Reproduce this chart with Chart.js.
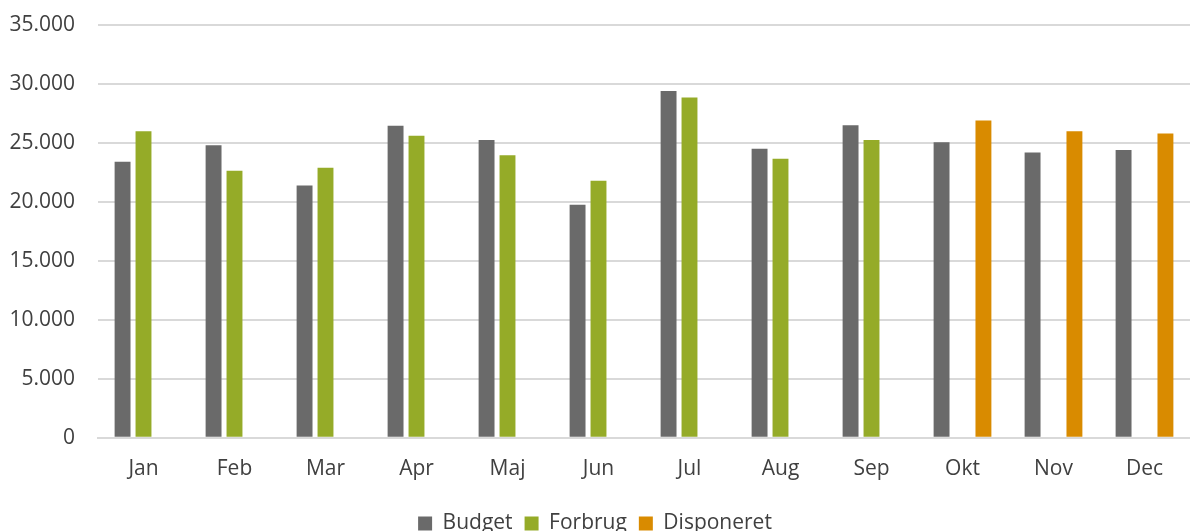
<!DOCTYPE html>
<html>
<head>
<meta charset="utf-8">
<script src="https://cdn.jsdelivr.net/npm/chart.js@4/dist/chart.umd.min.js"></script>
<style>
  html, body { margin: 0; padding: 0; background: #fff; }
  #wrap { width: 1190px; height: 531px; }
</style>
</head>
<body>
<div id="wrap"><canvas id="budgetChart"></canvas></div>
<script>
// Data
const months = ['Jan', 'Feb', 'Mar', 'Apr', 'Maj', 'Jun', 'Jul', 'Aug', 'Sep', 'Okt', 'Nov', 'Dec'];
const budget = [23400, 24800, 21400, 26450, 25250, 19750, 29400, 24500, 26500, 25050, 24200, 24400];
const forbrug = [26000, 22650, 22900, 25600, 23950, 21800, 28850, 23650, 25250, null, null, null];
const disponeret = [null, null, null, null, null, null, null, null, null, 26900, 26000, 25800];
const yTicks = [0, 5000, 10000, 15000, 20000, 25000, 30000, 35000];

const textColor = '#404040';
const gridColor = '#d9d9d9';

function fmt(v) {
    // dansk tusindtalsseparator
    return String(v).replace(/\B(?=(\d{3})+(?!\d))/g, '.');
}

const ctx = document.getElementById('budgetChart').getContext('2d');
const chart = new Chart(ctx, {
    type: 'bar',
    data: {
        labels: months,
        datasets: [
            { label: 'Budget', data: budget, backgroundColor: '#6a6a6a' },
            { label: 'Forbrug', data: forbrug, backgroundColor: '#95ab28' },
            { label: 'Disponeret', data: disponeret, backgroundColor: '#d98b00' }
        ]
    },
    options: {
        responsive: true,
        maintainAspectRatio: false,
        animation: false,
        categoryPercentage: 0.69,
        barPercentage: 0.76,
        layout: { padding: { top: 25, right: 0, bottom: -13, left: 0 } },
        plugins: {
            tooltip: { enabled: false },
            legend: {
                position: 'bottom',
                labels: {
                    color: textColor,
                    boxWidth: 14,
                    boxHeight: 14,
                    padding: 12,
                    font: { family: 'Open Sans', size: 21 }
                }
            }
        },
        scales: {
            x: {
                grid: { display: false, drawTicks: false },
                border: { display: true, color: gridColor, width: 2 },
                ticks: {
                    color: textColor,
                    padding: 19,
                    maxRotation: 0,
                    font: { family: 'Open Sans', size: 21 }
                }
            },
            y: {
                min: 0,
                max: 35000,
                afterFit: function(scale) {
                    scale.width = 98;
                    // tick padding skal ikke skubbe plottet ned
                    scale.paddingTop = 0;
                    scale.paddingBottom = 0;
                },
                afterBuildTicks: function(scale) {
                    scale.ticks = yTicks.map(v => ({ value: v }));
                },
                grid: { color: gridColor, lineWidth: 2, drawTicks: false },
                border: { display: false },
                ticks: {
                    color: textColor,
                    padding: 23,
                    font: { family: 'Open Sans', size: 21 },
                    callback: function(v) { return fmt(v); }
                }
            }
        }
    }
});
</script>
</body>
</html>
